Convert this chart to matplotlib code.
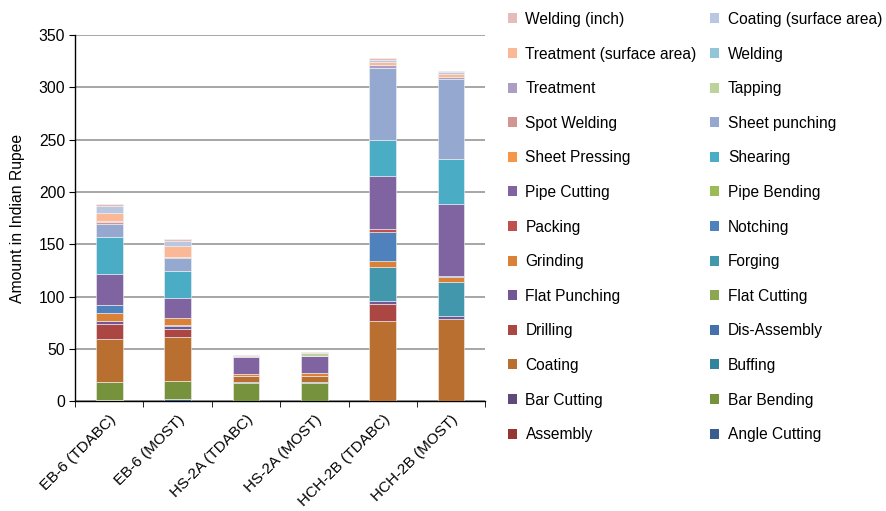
import numpy as np
import matplotlib
matplotlib.use("Agg")
import matplotlib.pyplot as plt
from matplotlib.patches import Patch

plt.rcParams['font.family'] = ['Liberation Sans', 'DejaVu Sans']

products = ["EB-6 (TDABC)", "EB-6 (MOST)", "HS-2A (TDABC)", "HS-2A (MOST)",
            "HCH-2B (TDABC)", "HCH-2B (MOST)"]

# stacking order, bottom to top
operations = ["Angle Cutting", "Assembly", "Bar Bending", "Bar Cutting", "Buffing",
              "Coating", "Dis-Assembly", "Drilling", "Flat Cutting", "Flat Punching",
              "Forging", "Grinding", "Notching", "Packing", "Pipe Bending",
              "Pipe Cutting", "Shearing", "Sheet Pressing", "Sheet punching",
              "Spot Welding", "Tapping", "Treatment", "Welding",
              "Treatment (surface area)", "Coating (surface area)", "Welding (inch)"]

colors = ["#3A5D8F", "#963634", "#76923C", "#5F497A", "#31849B",
          "#B96F2F", "#4470AB", "#AB4643", "#8BA752", "#735795",
          "#4397AD", "#DA8137", "#4F81BD", "#C0504D", "#9BBB59",
          "#8064A2", "#4BACC6", "#F79646", "#95A9D0",
          "#D39593", "#BCD39A", "#AC9DC3", "#93C5D8",
          "#FAB896", "#B9C7E0", "#E5BCBB"]

# cost per operation (Rs), one list per product
eb6_tdabc = [0, 1, 17, 0.5, 0, 40.5, 0, 15, 0, 3, 0, 7, 7.7, 0, 0,
             29.6, 36, 0, 11.8, 2, 0, 1, 0, 8, 6.4, 1.5]
eb6_most = [2, 0, 17, 0, 0, 42.7, 0, 7, 0, 3.5, 1, 6.4, 0, 0, 0,
            19, 25.8, 0, 12, 1.5, 0, 0, 0, 10, 5.5, 2]
hs2a_tdabc = [0, 0, 17, 0, 1, 6, 0, 0, 0, 0, 0, 2, 0, 0, 0,
              16, 0, 0, 0, 1, 0, 0, 0, 0, 0, 1]
hs2a_most = [0, 0, 17, 0, 1, 6, 0, 0, 0, 0, 0, 3, 0, 0, 0,
             16, 0, 0, 0, 0, 3, 0, 0, 0, 0, 1]
hch2b_tdabc = [0, 0, 0, 0, 0, 77, 0, 16, 0, 2.5, 32.5, 5.7, 28.4, 2, 0,
               50.7, 35, 0, 68.8, 0, 0, 3, 0, 2.5, 2, 2]
hch2b_most = [0, 0, 0, 0, 0, 78.5, 0, 0, 0, 3, 32.8, 4, 1.5, 0, 0,
              68.5, 42.7, 0, 76.8, 0, 0, 2, 0, 3, 2, 1]

values = np.array([eb6_tdabc, eb6_most, hs2a_tdabc, hs2a_most,
                   hch2b_tdabc, hch2b_most]).T

fig = plt.figure(figsize=(8.87, 5.11), dpi=100)
ax = fig.add_axes([0.0846, 0.215, 0.4625, 0.7165])

x = np.arange(len(products))
bottom = np.zeros(len(products))
for name, color, row in zip(operations, colors, values):
    ax.bar(x, row, 0.39, bottom=bottom, color=color,
           edgecolor="#F2F2F2", linewidth=0.4, zorder=3)
    bottom += row

ax.set_xlim(-0.5, 5.5)
ax.set_ylim(0, 350)
ax.set_yticks(np.arange(0, 351, 50))
ax.yaxis.grid(True, color="#A6A6A6", linewidth=1.4, zorder=0)
ax.set_axisbelow(True)

ax.set_xticks(x)
ax.set_xticklabels(products, rotation=45, ha="right", rotation_mode="anchor",
                   fontsize=11)
ax.tick_params(axis="x", which="major", length=0, pad=8)
ax.set_xticks(np.arange(-0.5, 6, 1), minor=True)
ax.tick_params(axis="x", which="minor", length=4, color="black")
ax.tick_params(axis="y", length=4, labelsize=11.3, pad=3)

for side in ["top", "right"]:
    ax.spines[side].set_visible(False)
ax.spines["left"].set_linewidth(1.0)
ax.spines["bottom"].set_linewidth(1.0)

ax.set_ylabel("Amount in Indian Rupee", fontsize=11.3, labelpad=10)

# legend reads top-down in reverse stacking order, two entries per row
rev = list(zip(operations, colors))[::-1]
order = rev[0::2] + rev[1::2]
handles = [Patch(facecolor=c, edgecolor="none") for _, c in order]
labels = [n for n, _ in order]
fig.legend(handles, labels, ncol=2, loc="upper left",
           bbox_to_anchor=(0.560, 0.998), frameon=False, fontsize=11.2,
           handlelength=0.6, handleheight=0.6, handletextpad=0.55,
           labelspacing=1.26, columnspacing=0.85, borderaxespad=0.3)

fig.savefig("out.png", dpi=100)
